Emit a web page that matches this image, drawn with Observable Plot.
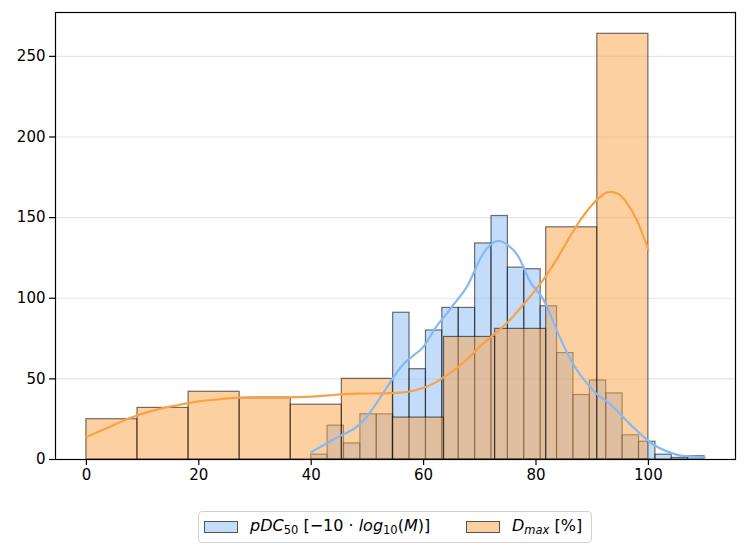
<!DOCTYPE html>
<html>
<head>
<meta charset="utf-8">
<script src="https://cdn.jsdelivr.net/npm/d3@7"></script>
<script src="https://cdn.jsdelivr.net/npm/@observablehq/plot@0.6"></script>
<style>
  html, body { margin: 0; padding: 0; background: #fff; }
  body { width: 747px; height: 555px; position: relative; font-family: "DejaVu Sans", sans-serif; overflow: hidden; }
  #chart { position: absolute; left: 0; top: 0; }
  #legend { position: absolute; left: 198px; top: 511px; width: 394px; height: 32px; border: 1px solid #d0d0d0; border-radius: 4px; box-sizing: border-box; font-size: 16px; color: #000; }
  .sw { position: absolute; top: 9px; width: 32px; height: 10px; border: 1px solid #555; }
  .lbl { position: absolute; top: 4px; white-space: nowrap; line-height: 19px; }
  .lbl sub { font-size: 11.5px; vertical-align: -3px; line-height: 0; font-style: normal; }
  .lbl sub.it { font-style: italic; }
</style>
</head>
<body>
<div id="chart"></div>
<div id="legend">
  <div class="sw" style="left:5px; background: rgba(133,185,245,0.5);"></div>
  <div class="lbl" style="left:51px;"><i>pDC</i><sub>50</sub> [−10 · <i>log</i><sub>10</sub>(<i>M</i>)]</div>
  <div class="sw" style="left:267px; background: rgba(251,161,69,0.5);"></div>
  <div class="lbl" style="left:313px;"><i>D</i><sub class="it">max</sub> [%]</div>
</div>
<script>
// pDC50 histogram: 24 bins from 40 to 110
const pdcRange = [40, 110];
const pdcCounts = [3, 21, 10, 28, 28, 91, 56, 80, 94, 94, 134, 151, 119, 118, 95, 66, 40, 49, 41, 15, 11, 3, 1, 2];
// Dmax histogram: 11 bins from 0 to 100
const dmaxRange = [0, 100];
const dmaxCounts = [25, 32, 42, 38, 34, 50, 26, 76, 81, 144, 264];

// KDE curves (scaled to counts)
const pdcKdeX = [40, 42, 44, 46, 48, 50, 52, 54, 56, 58, 60, 62, 64, 66, 68, 70, 72, 73.5, 75, 77, 79, 81, 83, 85, 87, 89, 91, 93, 95, 97, 99, 101, 103, 105, 107, 110];
const pdcKdeY = [4.5, 8.5, 12.5, 16, 20, 27, 37, 47.5, 57.5, 64, 70, 81, 90, 99, 109, 124, 133.5, 135.5, 133, 125, 110, 101, 86, 70, 57, 47.5, 40, 35, 28, 21, 14.5, 9, 5.5, 3, 2, 1.4];
const dmaxKdeX = [0, 4, 8, 12, 16, 20, 24, 28, 32, 36, 40, 44, 48, 52, 56, 58, 60, 62, 64, 66, 68, 70, 72, 74, 76, 78, 80, 82, 84, 86, 88, 90, 92, 93.2, 94.5, 96, 98, 100];
const dmaxKdeY = [14, 20, 26, 30.5, 33.5, 36, 37.5, 38.5, 38.7, 38.7, 39, 40, 40.8, 41, 41.5, 42.5, 44.5, 47.5, 52, 57, 63, 70, 76, 82, 89, 97, 105.5, 115, 126, 138, 149, 158, 164.5, 166, 165, 160, 148, 130];

const xTicks = [0, 20, 40, 60, 80, 100];
const yTicks = [0, 50, 100, 150, 200, 250];

const blueLine = "#85b9f5";
const orangeLine = "#fba145";

function bins(range, counts) {
  const w = (range[1] - range[0]) / counts.length;
  return counts.map((c, i) => ({x1: range[0] + i * w, x2: range[0] + (i + 1) * w, y: c}));
}
const pdcBins = bins(pdcRange, pdcCounts);
const dmaxBins = bins(dmaxRange, dmaxCounts);
const pdcKde = pdcKdeX.map((x, i) => ({x, y: pdcKdeY[i]}));
const dmaxKde = dmaxKdeX.map((x, i) => ({x, y: dmaxKdeY[i]}));

const chart = Plot.plot({
  width: 747,
  height: 490,
  marginLeft: 55,
  marginRight: 12,
  marginTop: 12,
  marginBottom: 31,
  style: {fontFamily: "DejaVu Sans, sans-serif", fontSize: "15px", color: "#000", background: "#fff"},
  x: {domain: [-5.5, 115.5], label: null},
  y: {domain: [0, 277.2], label: null},
  marks: [
    Plot.ruleY(yTicks.slice(1), {stroke: "#e6e6e6", strokeWidth: 1.2}),
    Plot.rectY(pdcBins, {x1: "x1", x2: "x2", y: "y", fill: blueLine, fillOpacity: 0.5, stroke: "#000", strokeOpacity: 0.55, strokeWidth: 1.2}),
    Plot.rectY(dmaxBins, {x1: "x1", x2: "x2", y: "y", fill: orangeLine, fillOpacity: 0.5, stroke: "#000", strokeOpacity: 0.55, strokeWidth: 1.2}),
    Plot.line(pdcKde, {x: "x", y: "y", stroke: blueLine, strokeWidth: 2.2, curve: "natural"}),
    Plot.line(dmaxKde, {x: "x", y: "y", stroke: orangeLine, strokeWidth: 2.2, curve: "natural"}),
    Plot.axisX({ticks: xTicks, tickSize: 6, tickPadding: 4, tickFormat: d => String(d), stroke: "#000", strokeWidth: 1.2, strokeOpacity: 1}),
    Plot.axisY({ticks: yTicks, tickSize: 6, tickPadding: 4, tickFormat: d => String(d), stroke: "#000", strokeWidth: 1.2, strokeOpacity: 1}),
    Plot.frame({stroke: "#000", strokeWidth: 1.2})
  ]
});
document.getElementById("chart").appendChild(chart);
</script>
</body>
</html>
